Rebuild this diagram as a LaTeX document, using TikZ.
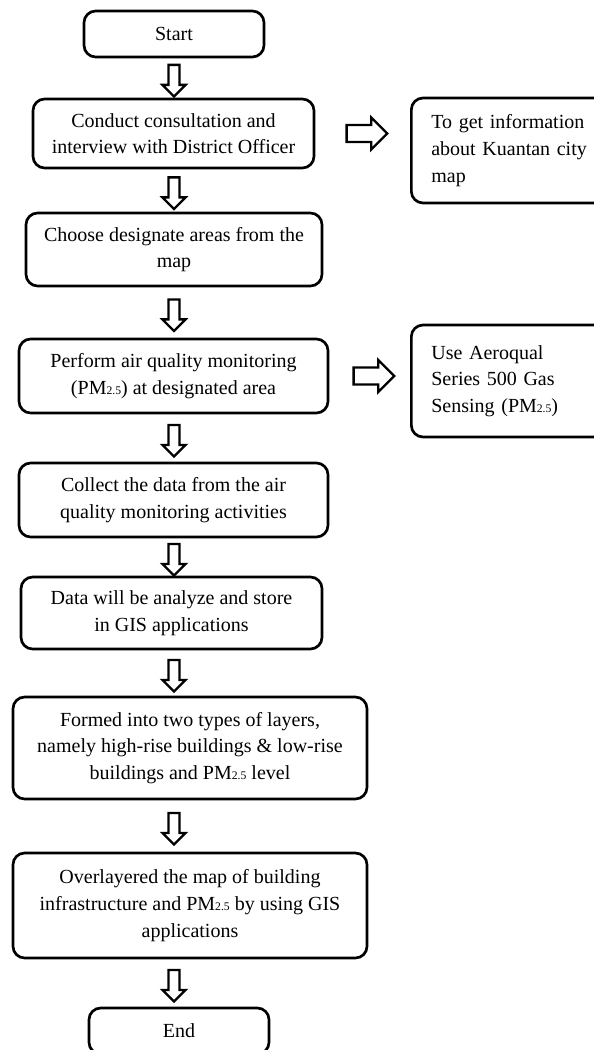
\documentclass[tikz,border=0pt]{standalone}
\usepackage{fontspec}
\setmainfont{Liberation Serif}
\usetikzlibrary{shapes.arrows, positioning, calc}

\newcommand{\pmtwofive}{PM{\scriptsize 2.5}}

\begin{document}
\begin{tikzpicture}[
		x=0.6pt, y=-0.6pt,
		every node/.style={font=\fontsize{12}{16}\selectfont}
	]
	\tikzstyle{Node} = [ %rounded box for every step
		draw=black,
		line width=1.6pt,
		rounded corners=7pt,
		inner sep=3pt
	]
	\tikzstyle{StepNode} = [
		Node,
		align=center
	]
	\tikzstyle{SideNode} = [
		Node,
		align=left,
		text width=104pt,
		inner xsep=12pt,
		anchor=west
	]
	\tikzstyle{DownArrow} = [ %hollow block arrow, shaft set by inner sep
		single arrow,
		draw=black,
		line width=1.4pt,
		fill=white,
		inner sep=2.6pt,
		minimum height=19pt,
		minimum width=12.6pt,
		single arrow head extend=3.7pt,
		shape border rotate=270
	]
	\tikzstyle{RightArrow} = [
		DownArrow,
		inner sep=4.4pt,
		minimum height=24.4pt,
		minimum width=17.8pt,
		single arrow head extend=4.5pt,
		shape border rotate=0
	]
	
	\useasboundingbox (0,0) rectangle (594,1050);
	
	\node (start) [StepNode, minimum width=108pt, minimum height=27.6pt] at (174,34) {Start};
	\node (conduct) [StepNode, minimum width=168.6pt, minimum height=41.4pt] at (173.5,133.5) {Conduct consultation and\\interview with District Officer};
	\node (info) [SideNode, minimum height=63pt] at (410,150.5) {To get information\\about Kuantan city\\map};
	\node (choose) [StepNode, minimum width=177.6pt, minimum height=43.8pt] at (174,249.5) {Choose designate areas from the\\map};
	\node (monitor) [StepNode, minimum width=185.4pt, minimum height=44.4pt] at (173.5,376) {Perform air quality monitoring\\(\pmtwofive) at designated area};
	\node (device) [SideNode, minimum height=67.2pt] at (410,381) {Use Aeroqual\\Series 500 Gas\\Sensing (\pmtwofive)};
	\node (collect) [StepNode, minimum width=185.4pt, minimum height=44.4pt] at (173.5,500) {Collect the data from the air\\quality monitoring activities};
	\node (store) [StepNode, minimum width=180.6pt, minimum height=43.2pt] at (171.5,613) {Data will be analyze and store\\in GIS applications};
	\node (layers) [StepNode, minimum width=212.4pt, minimum height=61.2pt] at (190,748) {Formed into two types of layers,\\namely high-rise buildings \& low-rise\\buildings and \pmtwofive{} level};
	\node (overlay) [StepNode, minimum width=212.4pt, minimum height=63pt] at (190,905.5) {Overlayered the map of building\\infrastructure and \pmtwofive{} by using GIS\\applications};
	\node (end) [StepNode, minimum width=108pt, minimum height=27.6pt] at (179,1031) {End};
	
	\path (start.south) -- node (a1) [DownArrow] {} (conduct.north -| start);
	\path (conduct.south -| start) -- node (a2) [DownArrow] {} (choose.north -| start);
	\path (choose.south -| start) -- node (a3) [DownArrow] {} (monitor.north -| start);
	\path (monitor.south -| start) -- node (a4) [DownArrow] {} (collect.north -| start);
	\path (collect.south -| start) -- node (a5) [DownArrow] {} (store.north -| start);
	\path (store.south -| start) -- node (a6) [DownArrow] {} (layers.north -| start);
	\path (layers.south -| start) -- node (a7) [DownArrow] {} (overlay.north -| start);
	\path (overlay.south -| start) -- node (a8) [DownArrow] {} (end.north -| start);
	
	\path (conduct.east) -- node (r1) [RightArrow] {} (info.west |- conduct.east);
	\path (monitor.east) -- node (r2) [RightArrow] {} (device.west |- monitor.east);
\end{tikzpicture}
\end{document}
